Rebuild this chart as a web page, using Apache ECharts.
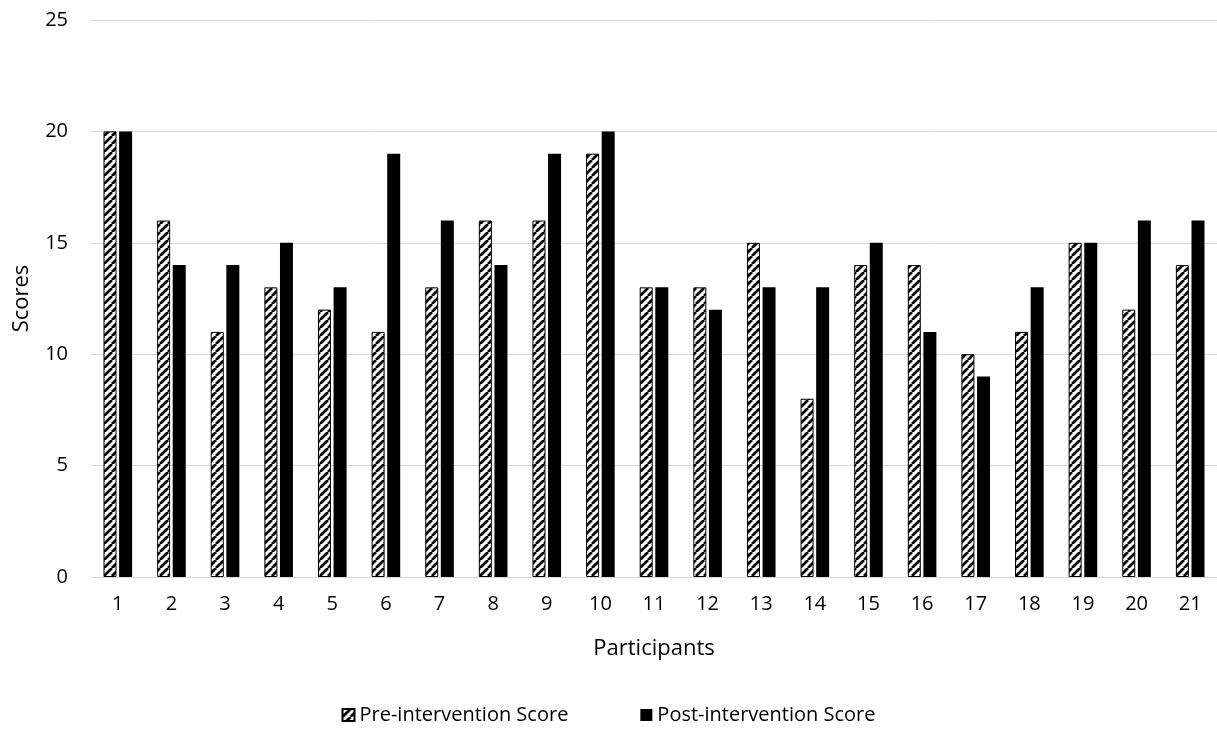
<!DOCTYPE html>
<html><head><meta charset="utf-8">
<script src="https://cdn.jsdelivr.net/npm/echarts@6/dist/echarts.min.js"></script>
<style>html,body{margin:0;padding:0;background:#fff}#c{width:1217px;height:733px}</style>
</head><body><div id="c"></div>
<script>
const participants = ['1','2','3','4','5','6','7','8','9','10','11','12','13','14','15','16','17','18','19','20','21'];
const preScores = [20,16,11,13,12,11,13,16,16,19,13,13,15,8,14,14,10,11,15,12,14];
const postScores = [20,14,14,15,13,19,16,14,19,20,13,12,13,13,15,11,9,13,15,16,16];
const yTicks = [0,5,10,15,20,25];

function hatch(){
  const s = 8;
  const c = document.createElement('canvas');
  c.width = s; c.height = s;
  const g = c.getContext('2d');
  g.fillStyle = '#fff'; g.fillRect(0,0,s,s);
  g.strokeStyle = '#000'; g.lineWidth = 2.8;
  g.beginPath();
  for (let k=-1;k<=1;k++){ g.moveTo(k*s, s); g.lineTo(k*s+s, 0); }
  g.stroke();
  return c;
}
const pat = {image: hatch(), repeat: 'repeat'};
const font = "'Open Sans', 'Liberation Sans', sans-serif";
const chart = echarts.init(document.getElementById('c'));
chart.setOption({
  animation:false,
  textStyle:{fontFamily:font},
  grid:{left:91,right:0,top:20,bottom:156,outerBoundsMode:'none',containLabel:false},
  legend:{bottom:3,left:'center',itemWidth:12,itemHeight:12,itemGap:72,icon:'rect',
    textStyle:{fontSize:20,color:'#000',fontFamily:font},
    data:['Pre-intervention Score','Post-intervention Score']},
  xAxis:{type:'category',data:participants,name:'Participants',nameLocation:'middle',nameGap:61,
    nameTextStyle:{fontSize:22,color:'#000'},
    axisLine:{lineStyle:{color:'#d9d9d9'}},axisTick:{show:false},
    axisLabel:{fontSize:20,color:'#000',margin:17}},
  yAxis:{type:'value',min:yTicks[0],max:yTicks[yTicks.length-1],interval:5,name:'Scores',nameLocation:'middle',nameGap:58,
    nameTextStyle:{fontSize:22,color:'#000'},
    axisLine:{show:false},axisTick:{show:false},
    axisLabel:{fontSize:20,color:'#000',margin:23},
    splitLine:{lineStyle:{color:'#d9d9d9',width:1}}},
  series:[
    {name:'Pre-intervention Score',type:'bar',data:preScores,barWidth:13,barGap:'20%',
      itemStyle:{color:pat,borderColor:'#000',borderWidth:1}},
    {name:'Post-intervention Score',type:'bar',data:postScores,barWidth:13,
      itemStyle:{color:'#000'}}
  ]
});
</script></body></html>
